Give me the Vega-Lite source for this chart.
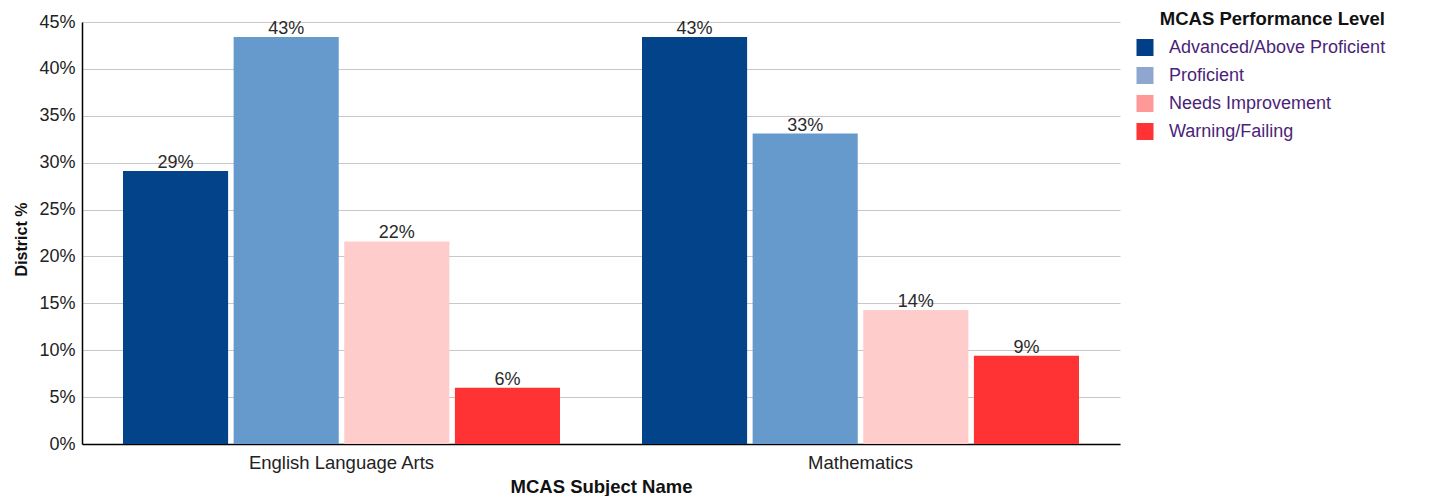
{
  "$schema": "https://vega.github.io/schema/vega-lite/v6.json",
  "width": 1038,
  "height": 422,
  "autosize": "none",
  "padding": {"left": 82, "top": 22, "right": 325, "bottom": 52},
  "background": "white",
  "config": {
    "font": "Liberation Sans",
    "view": {"stroke": null},
    "axis": {"labelFont": "Liberation Sans", "titleFont": "Liberation Sans"}
  },
  "data": {
    "values": [
      {"subject": "English Language Arts", "level": "Advanced/Above Proficient", "pct": 0.291},
      {"subject": "English Language Arts", "level": "Proficient", "pct": 0.434},
      {"subject": "English Language Arts", "level": "Needs Improvement", "pct": 0.216},
      {"subject": "English Language Arts", "level": "Warning/Failing", "pct": 0.06},
      {"subject": "Mathematics", "level": "Advanced/Above Proficient", "pct": 0.434},
      {"subject": "Mathematics", "level": "Proficient", "pct": 0.331},
      {"subject": "Mathematics", "level": "Needs Improvement", "pct": 0.143},
      {"subject": "Mathematics", "level": "Warning/Failing", "pct": 0.094}
    ]
  },
  "encoding": {
    "x": {
      "field": "subject",
      "type": "nominal",
      "sort": ["English Language Arts", "Mathematics"],
      "scale": {"paddingInner": 0.158, "paddingOuter": 0.079},
      "title": "MCAS Subject Name",
      "axis": {
        "labelAngle": 0,
        "labelFontSize": 18.5,
        "labelLimit": 500,
        "labelColor": "#222",
        "labelPadding": 9,
        "ticks": false,
        "domainColor": "#000",
        "domainWidth": 1.5,
        "titleFontSize": 18.5,
        "titleFontWeight": "bold",
        "titleColor": "#111",
        "titlePadding": 6
      }
    },
    "xOffset": {
      "field": "level",
      "type": "nominal",
      "sort": ["Advanced/Above Proficient", "Proficient", "Needs Improvement", "Warning/Failing"],
      "scale": {"paddingInner": 0.05, "paddingOuter": 0}
    },
    "y": {
      "field": "pct",
      "type": "quantitative",
      "scale": {"domain": [0, 0.45], "nice": false},
      "title": "District %",
      "axis": {
        "format": ".0%",
        "values": [0, 0.05, 0.1, 0.15, 0.2, 0.25, 0.3, 0.35, 0.4, 0.45],
        "labelFontSize": 18,
        "labelColor": "#222",
        "labelPadding": 7,
        "ticks": false,
        "domainColor": "#000",
        "domainWidth": 1.5,
        "gridColor": "#c8c8c8",
        "gridWidth": 1,
        "titleFontSize": 16,
        "titleFontWeight": "bold",
        "titleColor": "#111",
        "titlePadding": 9,
        "titleY": 217
      }
    }
  },
  "layer": [
    {
      "mark": {"type": "bar"},
      "encoding": {
        "fill": {
          "field": "level",
          "type": "nominal",
          "scale": {
            "domain": ["Advanced/Above Proficient", "Proficient", "Needs Improvement", "Warning/Failing"],
            "range": ["#02438a", "#6699cc", "#ffcccc", "#ff3333"]
          },
          "legend": null
        }
      }
    },
    {
      "mark": {"type": "text", "baseline": "bottom", "dy": 1, "fontSize": 18, "color": "#2a2a2a"},
      "encoding": {
        "text": {"field": "pct", "type": "quantitative", "format": ".0%"}
      }
    },
    {
      "mark": {"type": "point", "shape": "square", "filled": true, "opacity": 0},
      "encoding": {
        "color": {
          "field": "level",
          "type": "nominal",
          "sort": ["Advanced/Above Proficient", "Proficient", "Needs Improvement", "Warning/Failing"],
          "scale": {
            "range": ["#003f87", "#8fa6cf", "#ff9999", "#ff3333"]
          },
          "legend": {
            "orient": "none",
            "legendX": 1054,
            "legendY": -12,
            "title": "MCAS Performance Level",
            "titleFontSize": 18.5,
            "titleFontWeight": "bold",
            "titleColor": "#111",
            "titleAnchor": "end",
            "titleLimit": 500,
            "titlePadding": 10,
            "symbolType": "square",
            "symbolSize": 289,
            "symbolOpacity": 1,
            "symbolStrokeWidth": 0,
            "labelFontSize": 18,
            "labelColor": "#4b1f7a",
            "labelOffset": 15,
            "rowPadding": 10,
            "labelLimit": 500,
            "encode": {"symbols": {"update": {"opacity": {"value": 1}}}}
          }
        }
      }
    }
  ]
}
